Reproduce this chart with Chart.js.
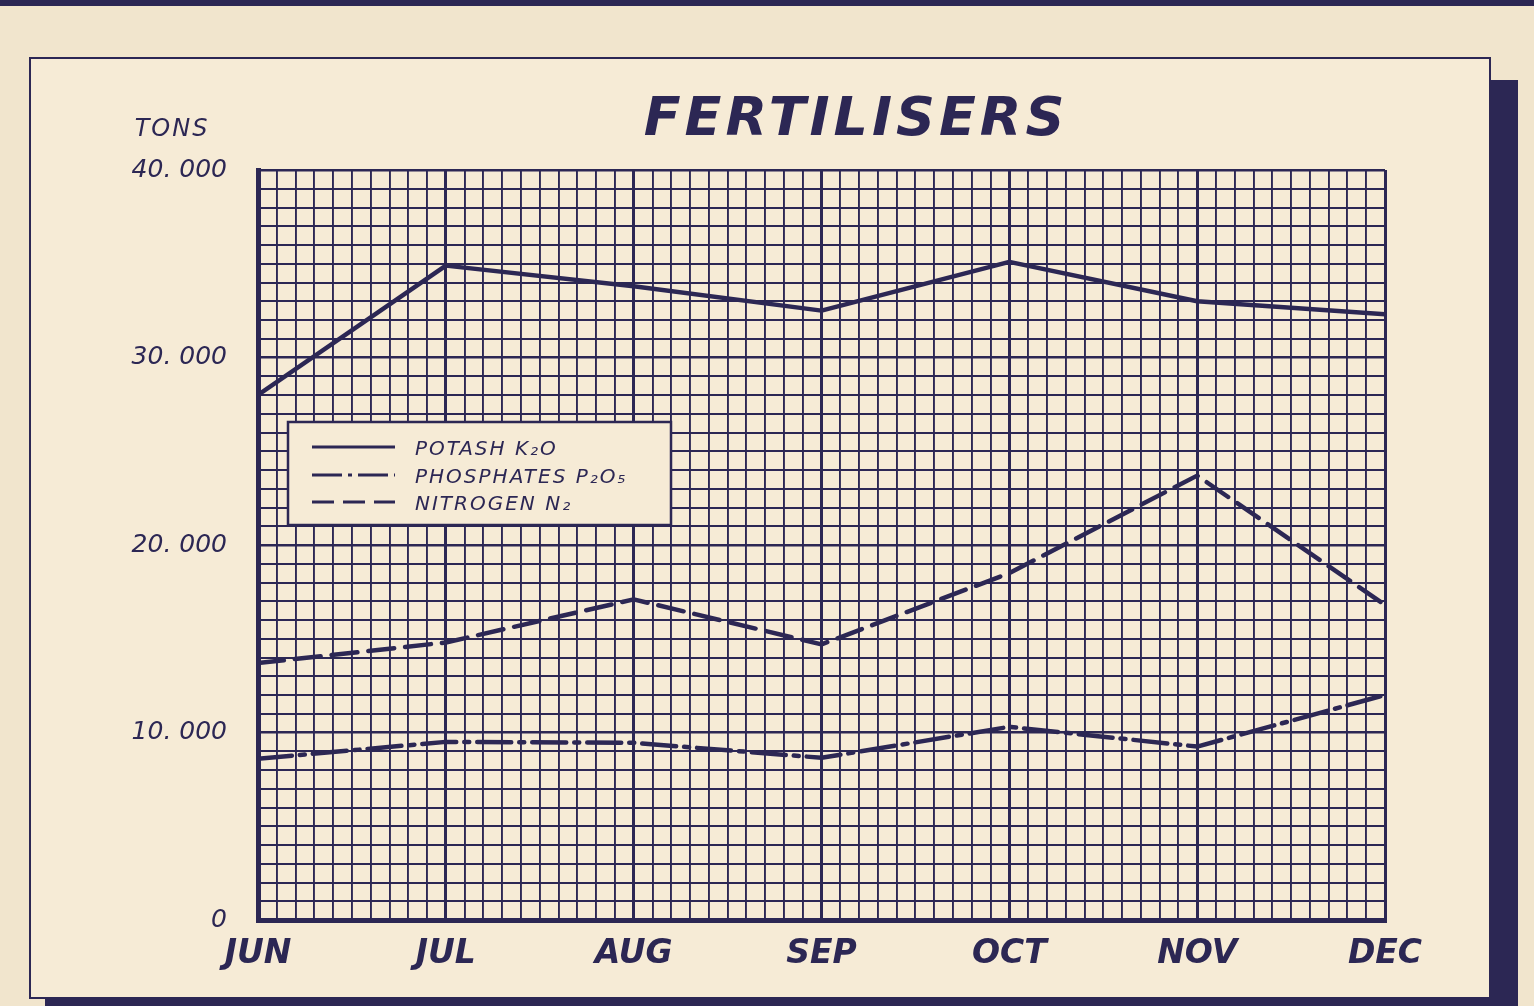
<!DOCTYPE html>
<html>
<head>
<meta charset="utf-8">
<title>Fertilisers</title>
<script src="https://cdn.jsdelivr.net/npm/chart.js@4.4.1/dist/chart.umd.min.js"></script>
<style>
  html, body { margin: 0; padding: 0; background: #f1e5cd; overflow: hidden; }
  canvas { display: block; }
</style>
</head>
<body>
<canvas id="chart" width="1534" height="1006" style="width:1534px;height:1006px"></canvas>
<script>
// values (tons)
const months = ['JUN', 'JUL', 'AUG', 'SEP', 'OCT', 'NOV', 'DEC'];
const potash = [28000, 34900, 33800, 32500, 35100, 33000, 32300];
const phosphates = [8600, 9500, 9450, 8650, 10300, 9250, 12000];
const nitrogen = [13700, 14800, 17100, 14700, 18500, 23700, 16800];
const seriesNames = ['POTASH K\u2082O', 'PHOSPHATES P\u2082O\u2085', 'NITROGEN N\u2082'];
const yTickValues = [0, 10000, 20000, 30000, 40000];
const yTickLabels = ['0', '10. 000', '20. 000', '30. 000', '40. 000'];

const ink = '#2c2754';
const paper = '#f6ebd6';

document.addEventListener('DOMContentLoaded', () => {
    const toPoints = arr => arr.map((v, i) => ({ x: i, y: v }));

    const isWhole = v => Math.abs(v - Math.round(v)) < 1e-6;

    // paper sheet, frame and shadow behind the chart
    const sheetPlugin = {
        id: 'sheet',
        beforeDraw(chart) {
            const c = chart.ctx;
            c.save();
            c.fillStyle = '#f1e5cd';
            c.fillRect(0, 0, chart.width, chart.height);
            // strip of the previous sheet at the very top
            c.fillStyle = ink;
            c.fillRect(0, 0, 1534, 6);
            // shadow
            c.fillRect(1488, 80, 30, 926);
            c.fillRect(45, 996, 1473, 10);
            // sheet
            c.fillStyle = paper;
            c.fillRect(30, 58, 1460, 940);
            c.strokeStyle = ink;
            c.lineWidth = 2;
            c.strokeRect(30, 58, 1460, 940);
            c.restore();
        },
        afterDraw(chart) {
            const c = chart.ctx;
            c.save();
            c.fillStyle = ink;
            c.textBaseline = 'alphabetic';

            // title
            c.font = 'bold italic 54px "DejaVu Sans"';
            c.letterSpacing = '4px';
            c.textAlign = 'center';
            c.fillText('FERTILISERS', 856, 135);

            // unit
            c.font = 'italic 24px "DejaVu Sans"';
            c.letterSpacing = '2px';
            c.fillText('TONS', 172, 136);

            // legend box inside the plot
            const box = { x: 288, y: 422, w: 383, h: 103 };
            c.fillStyle = paper;
            c.fillRect(box.x, box.y, box.w, box.h);
            c.strokeStyle = ink;
            c.lineWidth = 2.5;
            c.strokeRect(box.x, box.y, box.w, box.h);

            const rows = [447, 475, 502];
            chart.data.datasets.forEach((ds, i) => {
                c.beginPath();
                c.setLineDash(ds.legendDash || []);
                c.lineWidth = 3;
                c.strokeStyle = ink;
                c.moveTo(312, rows[i]);
                c.lineTo(395, rows[i]);
                c.stroke();
                c.setLineDash([]);
                c.fillStyle = ink;
                c.font = 'italic 20px "DejaVu Sans"';
                c.letterSpacing = '2px';
                c.textAlign = 'left';
                c.fillText(ds.label, 415, rows[i] + 8);
            });
            c.restore();
        }
    };

    new Chart(document.getElementById('chart'), {
        type: 'line',
        data: {
            datasets: [
                {
                    label: seriesNames[0],
                    data: toPoints(potash),
                    borderColor: ink,
                    borderWidth: 4.5,
                    legendDash: []
                },
                {
                    label: seriesNames[1],
                    data: toPoints(phosphates),
                    borderColor: ink,
                    borderWidth: 4.5,
                    borderDash: [34, 8, 5, 8],
                    legendDash: [30, 6, 4, 6]
                },
                {
                    label: seriesNames[2],
                    data: toPoints(nitrogen),
                    borderColor: ink,
                    borderWidth: 4.5,
                    borderDash: [26, 11],
                    legendDash: [22, 9]
                }
            ]
        },
        options: {
            responsive: false,
            animation: false,
            events: [],
            devicePixelRatio: 1,
            layout: { padding: { left: 0, top: 170, right: 149, bottom: 0 } },
            elements: {
                point: { radius: 0 },
                line: { tension: 0, borderCapStyle: 'round', borderJoinStyle: 'round' }
            },
            plugins: {
                legend: { display: false },
                title: { display: false },
                tooltip: { enabled: false }
            },
            scales: {
                x: {
                    type: 'linear',
                    min: 0,
                    max: months.length - 1,
                    afterFit: scale => { scale.height = 86; },
                    ticks: {
                        stepSize: 0.1,
                        maxTicksLimit: 200,
                        autoSkip: false,
                        maxRotation: 0,
                        padding: 15,
                        color: ink,
                        font: { family: '"DejaVu Sans"', size: 33, weight: 'bold', style: 'italic' },
                        callback: v => isWhole(v) ? months[Math.round(v)] : ''
                    },
                    grid: {
                        drawTicks: false,
                        color: ink,
                        lineWidth: ctx => (ctx.tick && isWhole(ctx.tick.value)) ? 3 : 1.9
                    },
                    border: { display: true, color: ink, width: 5 }
                },
                y: {
                    min: 0,
                    max: 40000,
                    afterFit: scale => { scale.width = 258; },
                    ticks: {
                        stepSize: 1000,
                        maxTicksLimit: 200,
                        autoSkip: false,
                        padding: 31,
                        color: ink,
                        font: { family: '"DejaVu Sans"', size: 25, style: 'italic' },
                        callback: v => {
                            const k = yTickValues.indexOf(v);
                            return k >= 0 ? yTickLabels[k] : '';
                        }
                    },
                    grid: {
                        drawTicks: false,
                        color: ink,
                        lineWidth: ctx => (ctx.tick && ctx.tick.value % 10000 === 0) ? 2.5 : 1.9
                    },
                    border: { display: true, color: ink, width: 5 }
                }
            }
        },
        plugins: [sheetPlugin]
    });
});
</script>
</body>
</html>
